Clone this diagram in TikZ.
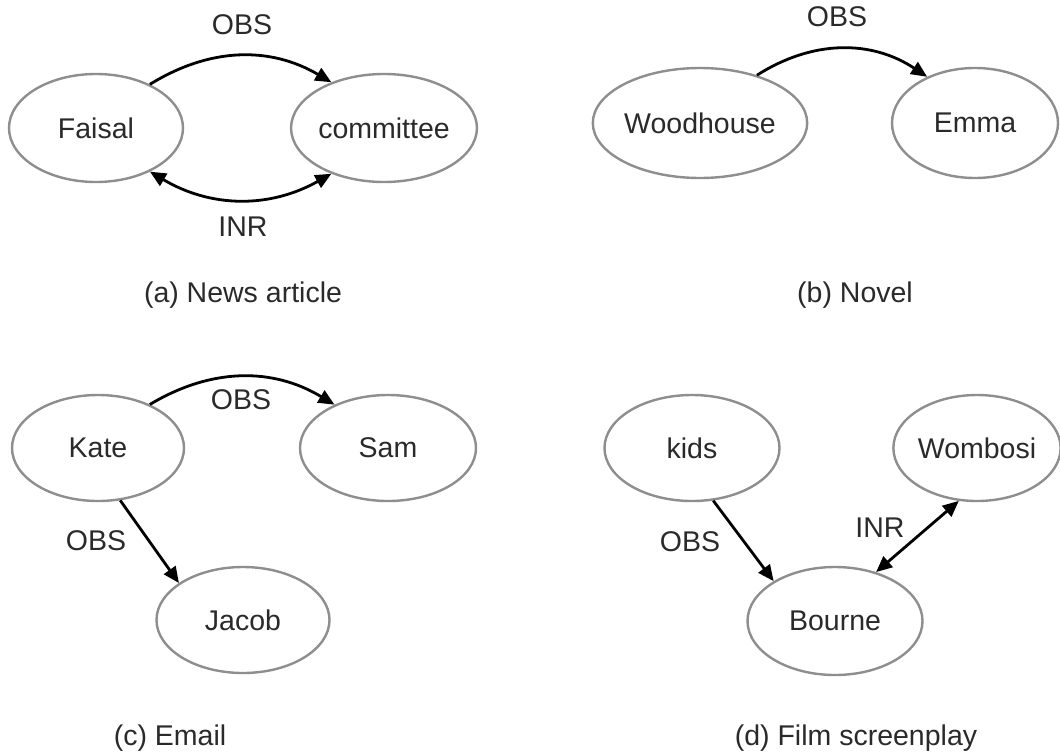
\documentclass[tikz,border=0pt]{standalone}
\usepackage{fontspec}
\setmainfont{Liberation Sans}
\usetikzlibrary{shapes.geometric,arrows.meta}
\definecolor{rim}{HTML}{8E8E8E}
\definecolor{ink}{HTML}{2A2A2A}
\tikzset{
  ent/.style={ellipse, draw=rim, line width=2.4pt, fill=white, text=ink,
    minimum width=174pt, minimum height=108pt, inner sep=0pt,
    font=\fontsize{28.5}{33}\selectfont},
  rel/.style={line width=2.8pt, black, -{Triangle[length=16pt,width=14pt]}},
  birel/.style={line width=2.8pt, black, {Triangle[length=16pt,width=14pt]}-{Triangle[length=16pt,width=14pt]}},
  lab/.style={text=ink, inner sep=0pt, font=\fontsize{28.5}{33}\selectfont},
  subcap/.style={text=ink, inner sep=0pt, font=\fontsize{28.5}{33}\selectfont}
}
\begin{document}
\begin{tikzpicture}[x=1pt,y=-1pt]
\useasboundingbox (0,0) rectangle (1060,755);

% (a) news article
\node[ent] (fai) at (96,128) {Faisal};
\node[ent, minimum width=176pt] (com) at (384,128) {committee};
\draw[rel] (fai.39) to[bend left=31] (com.139);
\draw[birel] (fai.321) to[bend right=30] (com.221);
\node[lab] (la1) at (242,25) {OBS};
\node[lab] (la2) at (243,227) {INR};
\node[subcap] (ca) at (243,295) {(a) News article};

% (b) novel
\node[ent, minimum width=195pt, minimum height=110pt] (woo) at (700,123) {Woodhouse};
\node[ent, minimum width=166pt, minimum height=110pt] (emm) at (975,123) {Emma};
\draw[rel] (woo.40) to[bend left=33] (emm.136);
\node[lab] (lb1) at (837,17) {OBS};
\node[subcap] (cb) at (855,295) {(b) Novel};

% (c) email
\node[ent, minimum width=172pt, minimum height=106pt] (kat) at (98,448) {Kate};
\node[ent, minimum width=176pt, minimum height=106pt] (sam) at (388,448) {Sam};
\node[ent, minimum width=173pt, minimum height=106pt] (jac) at (243,620) {Jacob};
\draw[rel] (kat.40) to[bend left=31] (sam.141);
\draw[rel] (kat.293) -- (jac.150);
\node[lab] (lc1) at (241,400) {OBS};
\node[lab] (lc2) at (96,541) {OBS};
\node[subcap] (cc) at (170,738) {(c) Email};

% (d) film screenplay
\node[ent, minimum width=175pt, minimum height=106pt] (kid) at (692,448) {kids};
\node[ent, minimum width=165pt, minimum height=106pt] (wom) at (977,448) {Wombosi};
\node[ent, minimum width=175pt, minimum height=108pt] (bou) at (835,621) {Bourne};
\draw[rel] (kid.292) -- (bou.147);
\draw[birel] (bou.50) -- (wom.251);
\node[lab] (ld1) at (690,542) {OBS};
\node[lab] (ld2) at (880,528) {INR};
\node[subcap] (cd) at (856,738) {(d) Film screenplay};
\end{tikzpicture}
\end{document}
